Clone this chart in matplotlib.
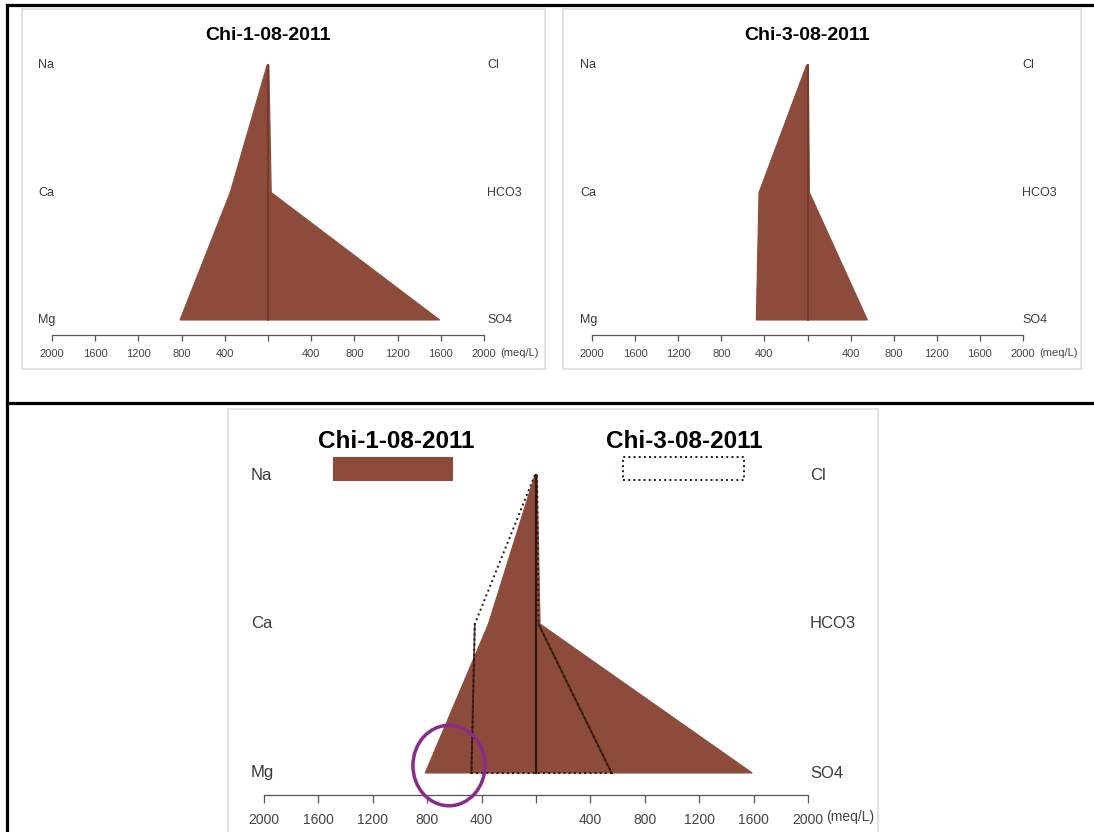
import matplotlib.pyplot as plt
from matplotlib.patches import Polygon, Rectangle, Ellipse
from matplotlib.lines import Line2D
from matplotlib.transforms import blended_transform_factory

plt.rcParams['font.family'] = ['Liberation Sans', 'DejaVu Sans']

W, H = 1094, 832

# stiff diagram data (meq/L)
cations = ['Na', 'Ca', 'Mg']
anions = ['Cl', 'HCO3', 'SO4']
rows = [3, 2, 1]

chi1_cat = [8, 350, 815]     # Na, Ca, Mg
chi1_an = [8, 30, 1590]      # Cl, HCO3, SO4
chi3_cat = [8, 450, 475]
chi3_an = [8, 18, 556]

ticks = [-2000, -1600, -1200, -800, -400, 0, 400, 800, 1200, 1600, 2000]
tick_labels = ['2000', '1600', '1200', '800', '400', '', '400', '800', '1200', '1600', '2000']

brown = '#8c4b3b'
dark = '#2e1711'


def fr(x0, y0, x1, y1):
    # pixel box -> figure fraction rect
    return [x0 / W, 1 - y1 / H, (x1 - x0) / W, (y1 - y0) / H]


def stiff_xy(cat, an):
    xs = [-v for v in cat] + an[::-1]
    ys = rows + rows[::-1]
    return list(zip(xs, ys))


fig = plt.figure(figsize=(W / 100, H / 100), dpi=100)


def panel(box, inner, lab_fs, tick_fs, out_px, tlen, pad, lab_px_left, lab_px_right):
    frame = fig.add_axes(fr(*box))
    frame.set_xticks([])
    frame.set_yticks([])
    for s in frame.spines.values():
        s.set_color('#e2e2e2')
        s.set_linewidth(1.5)

    ax = fig.add_axes(fr(*inner))
    ax.set_xlim(-2000, 2000)
    ax.set_ylim(1, 3)
    ax.patch.set_visible(False)
    for s in ['top', 'left', 'right']:
        ax.spines[s].set_visible(False)
    ax.spines['bottom'].set_position(('outward', out_px * 0.72))
    ax.spines['bottom'].set_color('#555555')
    ax.spines['bottom'].set_linewidth(0.9)
    ax.set_xticks(ticks)
    ax.set_xticklabels(tick_labels)
    ax.set_yticks([])
    ax.tick_params(axis='x', direction='out', length=tlen, width=0.9, color='#555555',
                   labelsize=tick_fs, labelcolor='#444444', pad=pad)

    x0, x1 = inner[0], inner[2]
    tr = blended_transform_factory(ax.transAxes, ax.transData)
    for lab, r in zip(cations, rows):
        ax.text((lab_px_left - x0) / (x1 - x0), r, lab, transform=tr, ha='left', va='center',
                fontsize=lab_fs, color='#3a3a3a')
    for lab, r in zip(anions, rows):
        ax.text((lab_px_right - x0) / (x1 - x0), r, lab, transform=tr, ha='left', va='center',
                fontsize=lab_fs, color='#3a3a3a')
    return ax


# top left : Chi-1
ax1 = panel((22, 9, 545, 369), (52, 65, 484, 320), 9, 8, 15, 4, 6, 38, 487)
ax1.add_patch(Polygon(stiff_xy(chi1_cat, chi1_an), closed=True, facecolor=brown,
                      edgecolor=brown, lw=0.8, clip_on=False))
ax1.plot([0, 0], [3, 1], color='#70392b', lw=1.2, clip_on=False)
fig.text(268 / W, 1 - 36 / H, 'Chi-1-08-2011', ha='center', va='center', fontsize=14, fontweight='bold')
fig.text(500 / W, 1 - 353 / H, '(meq/L)', ha='left', va='center', fontsize=8, color='#444444')

# top right : Chi-3
ax2 = panel((563, 9, 1081, 369), (592, 65, 1023, 320), 9, 8, 15, 4, 6, 580, 1022)
ax2.add_patch(Polygon(stiff_xy(chi3_cat, chi3_an), closed=True, facecolor=brown,
                      edgecolor=brown, lw=0.8, clip_on=False))
ax2.plot([0, 0], [3, 1], color='#70392b', lw=1.2, clip_on=False)
fig.text(807 / W, 1 - 36 / H, 'Chi-3-08-2011', ha='center', va='center', fontsize=14, fontweight='bold')
fig.text(1039 / W, 1 - 353 / H, '(meq/L)', ha='left', va='center', fontsize=8, color='#444444')

# bottom : overlay
ax3 = panel((228, 409, 878, 834), (264, 475, 808, 773), 12, 10, 22, 6, 7, 251, 810)
ax3.add_patch(Polygon(stiff_xy(chi1_cat, chi1_an), closed=True, facecolor=brown,
                      edgecolor=brown, lw=0.8, clip_on=False, zorder=2))
ax3.add_patch(Polygon(stiff_xy(chi3_cat, chi3_an), closed=True, facecolor='none',
                      edgecolor=dark, lw=1.4, ls=':', clip_on=False, zorder=3))
ax3.plot([0, 0], [3, 1], color=dark, lw=1.5, clip_on=False, zorder=4)
ax3.plot([-chi3_cat[1], -chi3_cat[2]], [2, 1], color=dark, lw=1.3, alpha=0.8, clip_on=False, zorder=4)
ax3.plot([chi3_an[1], chi3_an[2]], [2, 1], color=dark, lw=1.3, alpha=0.8, clip_on=False, zorder=4)
ax3.add_patch(Ellipse((-640, 1.05), 530, 0.54, facecolor='none', edgecolor='#8a2a8a',
                      lw=2.5, clip_on=False, zorder=5))
fig.text(396 / W, 1 - 442 / H, 'Chi-1-08-2011', ha='center', va='center', fontsize=17.5, fontweight='bold')
fig.text(684 / W, 1 - 442 / H, 'Chi-3-08-2011', ha='center', va='center', fontsize=17.5, fontweight='bold')
fig.text(826 / W, 1 - 817 / H, '(meq/L)', ha='left', va='center', fontsize=10, color='#444444')

# legend boxes
fig.patches.append(Rectangle((333 / W, 1 - 480 / H), 119 / W, 23 / H, transform=fig.transFigure,
                             facecolor=brown, edgecolor=brown, lw=0.8))
fig.patches.append(Rectangle((623 / W, 1 - 480 / H), 121 / W, 23 / H, transform=fig.transFigure,
                             facecolor='none', edgecolor=dark, lw=1.4, ls=':'))

# table borders
for xs, ys in [((7, 1094), (5, 5)), ((7, 7), (5, 832)), ((7, 1094), (403, 403))]:
    fig.add_artist(Line2D([x / W for x in xs], [1 - y / H for y in ys], color='black', lw=2.3))

fig.savefig('out.png', dpi=100)
